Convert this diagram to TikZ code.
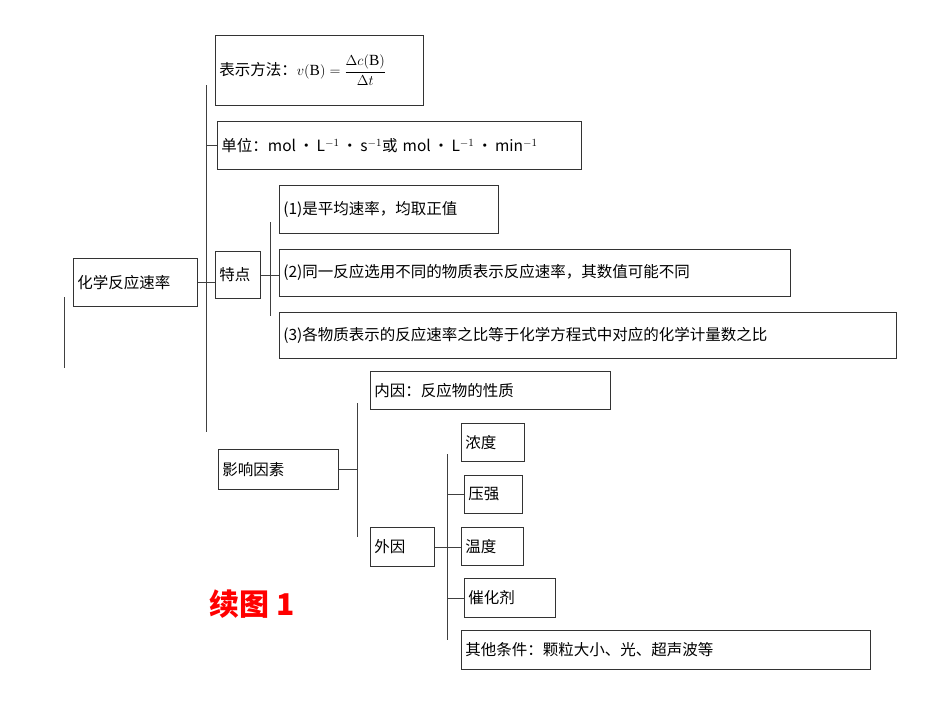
\documentclass[tikz,border=0pt]{standalone}
\usepackage{fontspec}
\setmainfont{Liberation Serif}
\newfontfamily\cjk{Noto Sans CJK SC}
\begin{document}
\begin{tikzpicture}[x=1pt,y=-1pt,
  bx/.style={draw=black!80,line width=0.8pt,inner xsep=4pt,inner ysep=0pt,anchor=north west,align=left,font=\cjk\fontsize{15.5}{18}\selectfont},
  ln/.style={draw=black!75,line width=0.8pt}]
\useasboundingbox (0,0) rectangle (950,713);
\newcommand\bxx[6]{\node[bx,text width=#4-#2-8,minimum height=#5-#3] (#1) at (#2,#3) {#6};}
\bxx{A}{73}{258}{197}{306}{化学反应速率}
\bxx{B1}{215}{35}{423}{105}{表示方法：$v(\mathrm{B})=\displaystyle\frac{\Delta c(\mathrm{B})}{\Delta t}$}
\bxx{B2}{217}{121}{581}{169}{单位：mol\,·\,L$^{-1}$\,·\,s$^{-1}$或 mol\,·\,L$^{-1}$\,·\,min$^{-1}$}
\bxx{T}{215}{251}{260}{298}{特点}
\bxx{C1}{279}{185}{498}{233}{(1)是平均速率，均取正值}
\bxx{C2}{279}{249}{790}{296}{(2)同一反应选用不同的物质表示反应速率，其数值可能不同}
\bxx{C3}{279}{312}{896}{358}{(3)各物质表示的反应速率之比等于化学方程式中对应的化学计量数之比}
\bxx{Y}{218}{449}{338}{489}{影响因素}
\bxx{N}{370}{371}{610}{409}{内因：反应物的性质}
\bxx{W}{370}{527}{434}{566}{外因}
\bxx{D1}{461}{423}{524}{461}{浓度}
\bxx{D2}{464}{475}{522}{513}{压强}
\bxx{D3}{461}{527}{523}{565}{温度}
\bxx{D4}{464}{578}{555}{617}{催化剂}
\bxx{D5}{461}{630}{870}{669}{其他条件：颗粒大小、光、超声波等}
\coordinate (m1) at (206,85); \coordinate (m2) at (206,432);
\draw[ln] (m1) -- (m2);
\draw[ln] (m1 |- B2.west) -- (B2.west);
\draw[ln] (A.east) -- (A.east -| T.west);
\coordinate (s1) at (64,297); \coordinate (s2) at (64,368);
\draw[ln] (s1) -- (s2);
\coordinate (t1) at (270,222); \coordinate (t2) at (270,316);
\draw[ln] (t1) -- (t2);
\draw[ln] (T.east) -- (T.east -| C2.west);
\coordinate (y1) at (357,403); \coordinate (y2) at (357,537);
\draw[ln] (Y.east) -- (Y.east -| y1);
\draw[ln] (y1) -- (y2);
\draw[ln] (W.east) -- (W.east -| D3.west);
\coordinate (w1) at (447,454); \coordinate (w2) at (447,640);
\draw[ln] (w1) -- (w2);
\draw[ln] (w1 |- D2.west) -- (D2.west);
\draw[ln] (w1 |- D4.west) -- (D4.west);
\node[font=\cjk\bfseries\fontsize{30}{32}\selectfont,text=red] (L) at (252,604) {续图 1};
\end{tikzpicture}
\end{document}
